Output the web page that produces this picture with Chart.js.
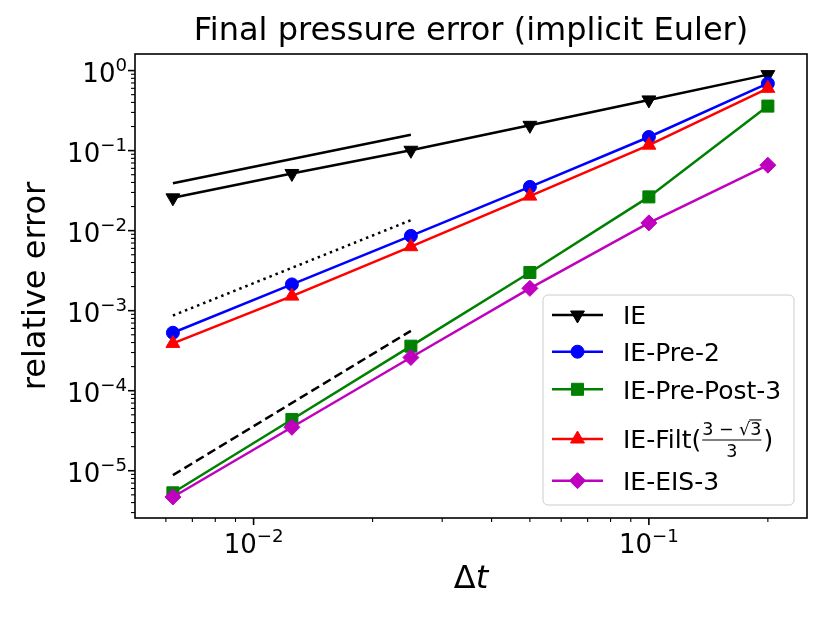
<!DOCTYPE html>
<html>
<head>
<meta charset="utf-8">
<script src="https://cdn.jsdelivr.net/npm/chart.js@4.4.0/dist/chart.umd.min.js"></script>
<style>
  html, body { margin: 0; padding: 0; background: #fff; }
  #wrap { width: 830px; height: 622px; }
</style>
</head>
<body>
<div id="wrap"><canvas id="chart" width="830" height="622"></canvas></div>
<script>
// time steps and relative errors
var dt = [0.2, 0.1, 0.05, 0.025, 0.0125, 0.00625];
var errIE       = [0.89, 0.43, 0.207, 0.101, 0.0518, 0.0257];
var errPre2     = [0.69, 0.148, 0.0352, 0.0086, 0.00213, 0.00053];
var errPrePost3 = [0.36, 0.0264, 0.0030, 0.00036, 0.0000437, 0.0000053];
var errFilt     = [0.60, 0.117, 0.027, 0.0063, 0.00152, 0.00039];
var errEIS3     = [0.0657, 0.0125, 0.0019, 0.00026, 0.0000349, 0.0000047];

// slope guides (order 1, 2, 3)
var refDt     = [0.00625, 0.025];
var refOrder1 = [0.039, 0.158];
var refOrder2 = [0.00087, 0.0135];
var refOrder3 = [0.0000088, 0.00056];

// decade exponents that get a label
var xTickExps = [-2, -1];
var yTickExps = [0, -1, -2, -3, -4, -5];

var FONT = '"DejaVu Sans", sans-serif';

function pts(xs, ys) {
	return xs.map(function (x, i) { return { x: x, y: ys[i] }; });
}

var series = [
	{ label: 'IE', data: errIE, color: '#000000', style: 'triangle', rot: 180, r: 8 },
	{ label: 'IE-Pre-2', data: errPre2, color: '#0000ff', style: 'circle', rot: 0, r: 6.5 },
	{ label: 'IE-Pre-Post-3', data: errPrePost3, color: '#008000', style: 'rect', rot: 0, r: 8.5 },
	{ label: 'IE-Filt((3\u2212\u221A3)/3)', data: errFilt, color: '#ff0000', style: 'triangle', rot: 0, r: 8 },
	{ label: 'IE-EIS-3', data: errEIS3, color: '#bf00bf', style: 'rectRot', rot: 0, r: 8 }
];

var datasets = [];
[[refOrder1, []], [refOrder2, [2.5, 4]], [refOrder3, [9, 4.5]]].forEach(function (g) {
	datasets.push({
		data: pts(refDt, g[0]),
		showLine: true,
		borderColor: '#000000',
		borderWidth: 2.5,
		borderDash: g[1],
		pointRadius: 0,
		order: 20
	});
});
series.forEach(function (s, i) {
	datasets.push({
		label: s.label,
		data: pts(dt, s.data),
		showLine: true,
		borderColor: s.color,
		backgroundColor: s.color,
		borderWidth: 2.5,
		pointStyle: s.style,
		pointRotation: s.rot,
		pointRadius: s.r,
		pointBorderWidth: 1,
		pointBorderColor: s.color,
		pointBackgroundColor: s.color,
		order: 10 - i
	});
});

// superscript label "10^exp"
function drawPow(ctx, exp, x, y, align, fs) {
	var sup = exp < 0 ? '\u2212' + (-exp) : String(exp);
	var sfs = fs * 0.7;
	ctx.font = fs + 'px ' + FONT;
	var wb = ctx.measureText('10').width;
	ctx.font = sfs + 'px ' + FONT;
	var ws = ctx.measureText(sup).width;
	var x0 = align === 'right' ? x - wb - ws : x - (wb + ws) / 2;
	ctx.font = fs + 'px ' + FONT;
	ctx.fillText('10', x0, y);
	ctx.font = sfs + 'px ' + FONT;
	ctx.fillText(sup, x0 + wb, y - fs * 0.42);
}

var mplLook = {
	id: 'mplLook',
	afterDraw: function (chart) {
		var ctx = chart.ctx, a = chart.chartArea;
		var xs = chart.scales.x, ys = chart.scales.y;
		ctx.save();
		ctx.fillStyle = '#000';
		ctx.strokeStyle = '#000';
		ctx.textAlign = 'left';
		ctx.textBaseline = 'alphabetic';

		// frame
		ctx.lineWidth = 1.6;
		ctx.strokeRect(a.left, a.top, a.right - a.left, a.bottom - a.top);

		// ticks
		var e, k, v, p;
		for (e = -4; e <= 1; e++) {
			for (k = 1; k <= 9; k++) {
				v = k * Math.pow(10, e);
				if (v >= xs.min && v <= xs.max) {
					p = xs.getPixelForValue(v);
					ctx.lineWidth = k === 1 ? 1.6 : 1.1;
					ctx.beginPath();
					ctx.moveTo(p, a.bottom);
					ctx.lineTo(p, a.bottom + (k === 1 ? 7 : 4));
					ctx.stroke();
				}
			}
		}
		for (e = -7; e <= 1; e++) {
			for (k = 1; k <= 9; k++) {
				v = k * Math.pow(10, e);
				if (v >= ys.min && v <= ys.max) {
					p = ys.getPixelForValue(v);
					ctx.lineWidth = k === 1 ? 1.6 : 1.1;
					ctx.beginPath();
					ctx.moveTo(a.left, p);
					ctx.lineTo(a.left - (k === 1 ? 7 : 4), p);
					ctx.stroke();
				}
			}
		}

		// tick labels
		xTickExps.forEach(function (ex) {
			drawPow(ctx, ex, xs.getPixelForValue(Math.pow(10, ex)), a.bottom + 35, 'center', 26);
		});
		yTickExps.forEach(function (ex) {
			drawPow(ctx, ex, a.left - 8, ys.getPixelForValue(Math.pow(10, ex)) + 11.5, 'right', 26);
		});

		// title and axis labels
		var cx = (a.left + a.right) / 2;
		ctx.textAlign = 'center';
		ctx.font = '32px ' + FONT;
		ctx.fillText('Final pressure error (implicit Euler)', cx, 40);

		ctx.save();
		ctx.translate(45, (a.top + a.bottom) / 2);
		ctx.rotate(-Math.PI / 2);
		ctx.fillText('relative error', 0, 0);
		ctx.restore();

		ctx.textAlign = 'left';
		ctx.font = '32px ' + FONT;
		var wD = ctx.measureText('\u0394').width;
		ctx.font = 'italic 32px ' + FONT;
		var wT = ctx.measureText('t').width;
		var lx = cx - (wD + wT) / 2;
		ctx.font = '32px ' + FONT;
		ctx.fillText('\u0394', lx, 588);
		ctx.font = 'italic 32px ' + FONT;
		ctx.fillText('t', lx + wD, 588);

		// legend box
		var bx = 543, by = 295, bw = 251, bh = 210, rr = 5;
		ctx.beginPath();
		ctx.moveTo(bx + rr, by);
		ctx.arcTo(bx + bw, by, bx + bw, by + bh, rr);
		ctx.arcTo(bx + bw, by + bh, bx, by + bh, rr);
		ctx.arcTo(bx, by + bh, bx, by, rr);
		ctx.arcTo(bx, by, bx + bw, by, rr);
		ctx.closePath();
		ctx.fillStyle = 'rgba(255,255,255,0.8)';
		ctx.fill();
		ctx.strokeStyle = '#cccccc';
		ctx.lineWidth = 1;
		ctx.stroke();

		var rows = [315, 351.7, 389.3, 439, 480.7];
		series.forEach(function (s, i) {
			var y = rows[i];
			ctx.strokeStyle = s.color;
			ctx.fillStyle = s.color;
			ctx.lineWidth = 2.5;
			ctx.setLineDash([]);
			ctx.beginPath();
			ctx.moveTo(552, y);
			ctx.lineTo(603, y);
			ctx.stroke();
			ctx.lineWidth = 1;
			Chart.helpers.drawPoint(ctx, { pointStyle: s.style, rotation: s.rot, radius: s.r, borderWidth: 1 }, 577.5, y);

			ctx.fillStyle = '#000';
			ctx.strokeStyle = '#000';
			ctx.font = '25px ' + FONT;
			var tx = 623, tb = y + 9.3;
			if (i !== 3) {
				ctx.fillText(s.label, tx, tb);
				return;
			}
			// IE-Filt( (3 - sqrt3)/3 )
			ctx.fillText('IE-Filt(', tx, tb);
			var fx = tx + ctx.measureText('IE-Filt(').width + 1;
			var sf = 17.5;
			ctx.font = sf + 'px ' + FONT;
			var wA = ctx.measureText('3 \u2212 ').width;
			var wR = ctx.measureText('\u221A').width;
			var w3 = ctx.measureText('3').width;
			var numW = wA + wR + w3;
			var nb = y - 4;
			ctx.fillText('3 \u2212 ', fx, nb);
			ctx.fillText('\u221A', fx + wA, nb);
			ctx.fillText('3', fx + wA + wR, nb);
			ctx.lineWidth = 1.1;
			ctx.beginPath();
			ctx.moveTo(fx + wA + wR - 1, nb - sf * 0.86);
			ctx.lineTo(fx + numW, nb - sf * 0.86);
			ctx.stroke();
			ctx.beginPath();
			ctx.moveTo(fx, y + 1);
			ctx.lineTo(fx + numW, y + 1);
			ctx.stroke();
			ctx.fillText('3', fx + numW / 2 - w3 / 2, y + 18);
			ctx.font = '25px ' + FONT;
			ctx.fillText(')', fx + numW + 2, tb);
		});

		ctx.restore();
	}
};

new Chart(document.getElementById('chart').getContext('2d'), {
	type: 'scatter',
	data: { datasets: datasets },
	options: {
		responsive: false,
		animation: false,
		layout: { padding: { left: 135, right: 23, top: 54, bottom: 104 } },
		plugins: {
			legend: { display: false },
			title: { display: false },
			tooltip: { enabled: false }
		},
		scales: {
			x: { type: 'logarithmic', min: 0.005012, max: 0.2512, display: false },
			y: { type: 'logarithmic', min: 0.000002567, max: 1.611, display: false }
		}
	},
	plugins: [mplLook]
});
</script>
</body>
</html>
